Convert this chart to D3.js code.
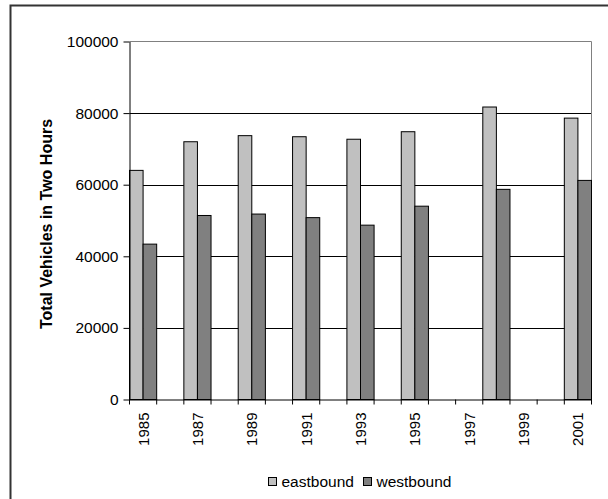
<!DOCTYPE html>
<html>
<head>
<meta charset="utf-8">
<script src="https://cdn.jsdelivr.net/npm/d3@7"></script>
<style>
  html, body { margin: 0; padding: 0; background: #fff; }
  svg { display: block; font-family: "Liberation Sans", Arial, sans-serif; }
</style>
</head>
<body>
<svg id="chart" width="608" height="499"></svg>
<script>
const categories = ["1985","1986","1987","1988","1989","1990","1991","1992","1993","1994","1995","1996","1997","1998","1999","2000","2001"];
const tickLabels = ["1985","1987","1989","1991","1993","1995","1997","1999","2001"];
const years = ["1985","1987","1989","1991","1993","1995","1998","2001"];
const eastbound = [64000, 72000, 73700, 73400, 72700, 74800, 81700, 78600];
const westbound = [43400, 51400, 51800, 50800, 48700, 54000, 58700, 61200];
const seriesNames = ["eastbound", "westbound"];
const seriesColors = ["#C0C0C0", "#808080"];
const yTicks = [0, 20000, 40000, 60000, 80000, 100000];

(function () {
const FONT = "Liberation Sans, Arial, sans-serif";
const svg = d3.select("#chart");
const pLeft = 129.5, pRight = 591.5, pTop = 41.5, pBottom = 399.5;

// outer frame
svg.append("path")
  .attr("d", `M10.5,499 L10.5,5.5 L608,5.5`)
  .attr("fill", "none").attr("stroke", "#333").attr("stroke-width", 2);

const x = d3.scaleBand().domain(categories).range([pLeft, pRight]).paddingInner(0).paddingOuter(0);
const xs = d3.scaleBand().domain(seriesNames).range([0, x.bandwidth()]).padding(0);
const y = d3.scaleLinear().domain([0, 100000]).range([pBottom, pTop]);

// gridlines
svg.append("g").selectAll("line").data(yTicks.filter(d => d > 0 && d < 100000)).join("line")
  .attr("x1", pLeft).attr("x2", pRight)
  .attr("y1", d => Math.round(y(d)) + 0.5).attr("y2", d => Math.round(y(d)) + 0.5)
  .attr("stroke", "#000").attr("stroke-width", 1);

// plot border top/right (grey)
svg.append("path")
  .attr("d", `M${pLeft},${pTop} L${pRight},${pTop} L${pRight},${pBottom}`)
  .attr("fill", "none").attr("stroke", "#808080").attr("stroke-width", 1);

// bars
const rows = years.map((yr, i) => ({ year: yr, values: [eastbound[i], westbound[i]] }));
const groups = svg.append("g").selectAll("g").data(rows).join("g")
  .attr("transform", d => `translate(${x(d.year)},0)`);
groups.selectAll("rect").data(d => d.values.map((v, j) => ({ key: seriesNames[j], value: v, color: seriesColors[j] })))
  .join("rect")
  .attr("x", d => xs(d.key))
  .attr("width", xs.bandwidth())
  .attr("y", d => y(d.value))
  .attr("height", d => y(0) - y(d.value))
  .attr("fill", d => d.color)
  .attr("stroke", "#000").attr("stroke-width", 1);

// y axis
const yAxis = d3.axisLeft(y).tickValues(yTicks).tickSize(6).tickSizeOuter(0).tickFormat(d3.format("d")).tickPadding(5);
const gy = svg.append("g").attr("transform", `translate(${pLeft},0)`).call(yAxis);
gy.selectAll("text").attr("font-size", 15.5).attr("fill", "#000").attr("font-family", FONT);
gy.selectAll("line,path").attr("stroke", "#000");

// x axis
const xAxis = d3.axisBottom(x).tickValues([]).tickSizeOuter(0);
const gx = svg.append("g").attr("transform", `translate(0,${pBottom})`).call(xAxis);
gx.select("path").attr("stroke", "#000");
const bounds = categories.map(c => x(c)).concat([x(categories[categories.length - 1]) + x.bandwidth()]);
gx.selectAll("line.bt").data(bounds).join("line").attr("class", "bt")
  .attr("x1", d => d).attr("x2", d => d).attr("y1", 0).attr("y2", 5).attr("stroke", "#000");
gx.selectAll("text.lab").data(tickLabels).join("text").attr("class", "lab")
  .attr("transform", d => `translate(${x(d) + x.bandwidth() / 2 + 5.5},${13}) rotate(-90)`)
  .attr("text-anchor", "end")
  .attr("font-size", 15).attr("fill", "#000")
  .attr("font-family", FONT)
  .text(d => d);

// y title
svg.append("text")
  .attr("transform", `translate(${52},${224}) rotate(-90)`)
  .attr("text-anchor", "middle")
  .attr("font-size", 16).attr("font-weight", "bold").attr("fill", "#000")
  .attr("font-family", FONT)
  .text("Total Vehicles in Two Hours");

// legend
const legendX = [268, 363];
const lg = svg.append("g").selectAll("g").data(seriesNames).join("g")
  .attr("transform", (d, i) => `translate(${legendX[i]},477)`);
lg.append("rect").attr("x", 0.5).attr("y", 0.5).attr("width", 8).attr("height", 8)
  .attr("fill", (d, i) => seriesColors[i]).attr("stroke", "#000");
lg.append("text").attr("x", 13.5).attr("y", 9.5).attr("font-size", 15.5).attr("fill", "#000")
  .attr("font-family", FONT).text(d => d);
})();
</script>
</body>
</html>
